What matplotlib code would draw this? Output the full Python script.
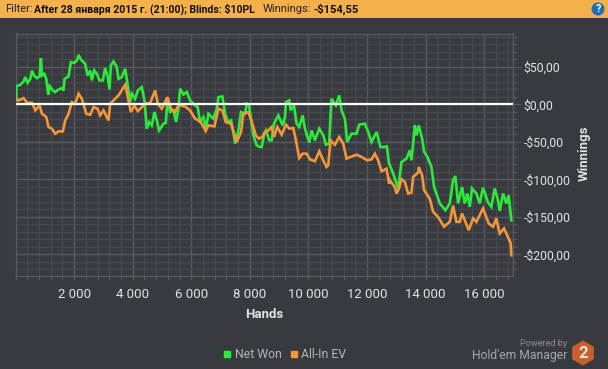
import matplotlib
matplotlib.use("Agg")
import matplotlib.pyplot as plt
from matplotlib.lines import Line2D
from matplotlib.patches import Rectangle, Circle, RegularPolygon
from matplotlib.ticker import FixedLocator, MultipleLocator

plt.rcParams['font.family'] = ['Roboto', 'DejaVu Sans']

# net won
net_hands = [27, 27, 164, 277, 334, 414, 505, 562, 641, 732, 823, 868, 902, 982, 1050, 1118, 1164, 1278, 1357, 1471,
             1585, 1641, 1675, 1812, 1891, 2005, 2096, 2153, 2232, 2380, 2460, 2551, 2607, 2687, 2778, 2869, 2983,
             3062, 3142, 3210, 3256, 3347, 3460, 3517, 3631, 3745, 3824, 3915, 3972, 4086, 4176, 4313, 4404, 4483,
             4563, 4654, 4745, 4825, 4904, 5052, 5131, 5188, 5279, 5393, 5484, 5563, 5620, 5734, 5848, 5961, 6132,
             6222, 6302, 6416, 6507, 6586, 6757, 6871, 6928, 7064, 7155, 7269, 7360, 7440, 7497, 7610, 7701, 7838,
             7895, 7975, 8043, 8123, 8236, 8348, 8407, 8498, 8552, 8666, 8746, 8826, 8973, 9121, 9201, 9235, 9348,
             9394, 9507, 9598, 9689, 9803, 9883, 10031, 10110, 10224, 10372, 10508, 10598, 10712, 10758, 10792,
             10940, 11053, 11133, 11247, 11326, 11474, 11645, 11736, 11929, 12043, 12157, 12327, 12463, 12577, 12680,
             12750, 12894, 13065, 13179, 13350, 13464, 13520, 13577, 13634, 13691, 13770, 13884, 13952, 14065, 14202,
             14293, 14486, 14679, 14827, 14941, 15020, 15111, 15248, 15339, 15430, 15510, 15589, 15737, 15851, 15964,
             16135, 16249, 16362, 16476, 16533, 16647, 16760, 16840, 16931]
net_won = [5.3, 24.4, 26, 30.6, 36.4, 28.8, 34, 45, 37.7, 35, 37.7, 61.6, 38.6, 40.8, 34, 12.9, 24.4, 18.6, 16.4, 20,
           21.7, 18.6, 34, 37.3, 56.3, 55.4, 58.5, 66, 59.8, 54, 38.6, 45.2, 32, 45.2, 40.8, 32, 32,
           48.3, 38.6, 20, 51.9, 57.2, 49.6, 34, 36.4, 47.5, 27.5, 3, 14.2, 7.6, 18.6, 23, 5.3, -32.3,
           -23.5, -27.9, -10.2, -21.3, -34.6, -25.7, -24.8, 5.3, -10.2, -8, -23.5, -5.8, 20.8, 13.3, 16.4, 5.3, -1.3,
           -3.5, -23.5, -16.8, -32.3, -12.4, -19, -5.8, 9.7, 10.6, -12.4, -23.5, -21.3, -36.8, -52.3, -34.6, -10.2, -12.4,
           0.9, -1.3, -19, -41.2, -54.5, -56.8, -56.7, -38.2, -34.6, -47.9, -47.9, -25.7, -14.6, -27.9, -16.8, 3.1, 5.3,
           -8, -1.3, -25.7, -30.1, -14.6, -32.3, -51, -34.6, -47.9, -32.3, -41.2, -53.6, -52.3, -14.6, 7.6,
           -1.3, 12, -8, -19, -50.1, -39, -39, -27, -25.7, -36.8, -50.1, -36.8, -56.8, -56.8, -56,
           -78, -92, -112, -76.7, -72.3, -61.2, -74.5, -52.3, -28, -41.2, -28, -45.6, -63.4, -70, -83.4,
           -110, -132, -141, -132, -101, -95.4, -132, -110, -132, -118.7, -136.6, -112, -118.7, -132, -111,
           -130.8, -136.6, -112, -127.7, -142, -118.7, -132, -121, -154.55]

# all-in ev
ev_hands = [27, 107, 277, 391, 562, 675, 823, 902, 1050, 1130, 1243, 1357, 1471, 1618, 1698, 1812, 1925, 2039, 2153,
            2267, 2414, 2551, 2664, 2801, 2892, 3006, 3176, 3233, 3403, 3517, 3745, 3824, 3938, 4052, 4176, 4427,
            4597, 4768, 4859, 4995, 5188, 5313, 5450, 5563, 5790, 5961, 6132, 6245, 6359, 6495, 6586, 6791, 6928,
            7064, 7178, 7360, 7497, 7554, 7701, 7781, 7951, 8088, 8202, 8316, 8429, 8518, 8632, 8746, 8826, 8939,
            9087, 9235, 9348, 9485, 9575, 9689, 9803, 9939, 10053, 10224, 10372, 10508, 10621, 10678, 10758, 10906,
            11053, 11190, 11304, 11440, 11645, 11815, 12009, 12157, 12270, 12384, 12498, 12668, 12759, 12781, 12951,
            13008, 13088, 13179, 13293, 13407, 13520, 13577, 13748, 13770, 13884, 13952, 14145, 14259, 14429, 14634,
            14827, 14941, 15055, 15168, 15248, 15475, 15623, 15737, 15964, 16158, 16305, 16419, 16533, 16681, 16760,
            16908, 16931]
ev_won = [7.5, 5.3, 8.4, 2.2, 2.2, -8, -1.3, -12.4, -16.8, -30.1, -32.3, -39, -35.9, -35.9, -21.3, -12.4, 3.1, 0.9, 14.2,
          7.5, -12.4, -13.8, -3.5, -5.8, -14.6, -8, -21.3, 0.9, 7.5, 12, 26, 12, -10.2, -1.3, -8.9, 0.9,
          1.8, 18.6, 0.9, -5.8, 9.7, -5.8, -10.2, -1.3, -2.7, -8, -19, -21.3, -25.7, -35.5, -27.9, -29.3, -5.8,
          -8, -23.5, -25.7, -43.4, -50.1, -36.8, -12.4, -10.2, -25.7, -41.2, -45.6, -43.4, -36.8, -34.6, -30.1, -43.4, -30.1,
          -40.3, -27, -32.3, -31.5, -47.9, -71.4, -65.6, -65.6, -73.2, -75.8, -62.5, -74.5, -83.4, -81.1, -47.9, -53.6,
          -43.4, -52.3, -72.2, -70, -67, -70, -74.5, -73.2, -65.6, -74.5, -89, -85.6, -105.5, -101, -110,
          -118.7, -113, -99.8, -103, -118.7, -117.5, -96.6, -90.9, -83.4, -94.4, -114.4, -125.5, -143, -150, -163,
          -156.5, -135, -156.5, -156.5, -145.4, -167.6, -152, -156.5, -138.7, -158.7, -163, -152, -172, -165.3, -172,
          -185, -201]

x_ticks = [2000, 4000, 6000, 8000, 10000, 12000, 14000, 16000]
x_labels = ['2 000', '4 000', '6 000', '8 000', '10 000', '12 000', '14 000', '16 000']
y_ticks = [50, 0, -50, -100, -150, -200]
y_labels = ['$50,00', '$0,00', '-$50,00', '-$100,00', '-$150,00', '-$200,00']

W, H = 608, 369
BG = '#373A3E'
GREEN = '#2BEA3C'
ORANGE = '#F6963A'
MAJOR = '#585B5E'
MINOR = '#47494D'
TEXT = '#E2E2E2'


def fx(px):
    return px / W


def fy(py):
    return 1 - py / H


fig = plt.figure(figsize=(W / 100, H / 100), dpi=100, facecolor=BG)
ax = fig.add_axes([fx(15.5), fy(275.5), fx(497), (275.5 - 33.5) / H], facecolor=BG)

ax.plot(net_hands, net_won, color=GREEN, lw=1.9, solid_joinstyle='miter', zorder=3)
ax.plot(ev_hands, ev_won, color=ORANGE, lw=1.9, solid_joinstyle='miter', zorder=3)
ax.axhline(0, color='white', lw=1.6, zorder=4)

ax.set_xlim(0, 16970)
ax.set_ylim(-228, 94.5)

# grid and ticks
ax.xaxis.set_major_locator(FixedLocator(x_ticks))
ax.set_xticklabels(x_labels)
ax.xaxis.set_minor_locator(MultipleLocator(400))
ax.yaxis.set_major_locator(FixedLocator(y_ticks))
ax.yaxis.tick_right()
ax.set_yticklabels(y_labels)
ax.yaxis.set_minor_locator(MultipleLocator(10))
ax.grid(which='major', color=MAJOR, lw=1)
ax.grid(which='minor', color=MINOR, lw=1)
ax.set_axisbelow(True)
ax.tick_params(axis='x', which='both', length=3, width=0.8, color=MAJOR, labelcolor=TEXT, labelsize=9.5, pad=6)
ax.tick_params(axis='y', which='major', length=5.4, width=0.8, color=MAJOR, labelcolor=TEXT, labelsize=8.8, pad=2.5)
ax.tick_params(axis='y', which='minor', length=3, width=0.8, color=MAJOR)
for s in ax.spines.values():
    s.set_color(MAJOR)
    s.set_linewidth(1)

fig.text(fx(264), fy(314), 'Hands', color=TEXT, fontsize=9.5, fontweight='bold', ha='center', va='center')
fig.text(fx(584), fy(153), 'Winnings', color=TEXT, fontsize=9.5, fontweight='bold', rotation=90,
         ha='center', va='center')

# header bar
fig.add_artist(Rectangle((0, fy(18)), 1, 18 / H, transform=fig.transFigure, color='#F4B04A', lw=0))
fig.text(fx(5), fy(9), 'Filter:', color='#222222', fontsize=8, va='center')
fig.text(fx(34), fy(9), 'After 28 января 2015 г. (21:00); Blinds: $10PL', color='#111111', fontsize=7.6,
         fontweight='bold', va='center')
fig.text(fx(263), fy(9), 'Winnings:', color='#222222', fontsize=8, va='center')
fig.text(fx(313), fy(9), '-$154,55', color='#111111', fontsize=8, fontweight='bold', va='center')

# help icon, using pixel coordinates of the figure
fig.add_artist(Circle((598, H - 9), 6.5, transform=None, color='#1C6FB5', lw=0))
fig.text(fx(598), fy(9), '?', color='white', fontsize=8, fontweight='bold', ha='center', va='center')

# legend
handles = [Line2D([], [], ls='none', marker='s', ms=4.5, color=GREEN),
           Line2D([], [], ls='none', marker='s', ms=4.5, color=ORANGE)]
fig.legend(handles, ['Net Won', 'All-In EV'], loc='center', bbox_to_anchor=(fx(283), fy(355)), ncol=2, frameon=False,
           fontsize=8.8, labelcolor='#B5B5B5', handletextpad=0.0, columnspacing=0.4, handlelength=1.2)

# powered by logo
fig.text(fx(567), fy(344), 'Powered by', color='#8C8E90', fontsize=6.6, ha='right', va='center')
fig.text(fx(567), fy(356), "Hold'em Manager", color='#A5A7A9', fontsize=8.7, ha='right', va='center')
fig.add_artist(RegularPolygon((583, H - 353), 6, radius=12.5, transform=None, color='#C8602A', lw=0))
fig.text(fx(583), fy(353), '2', color='#E8E2DC', fontsize=12, fontweight='bold', ha='center', va='center')

plt.savefig('out.png', dpi=100, facecolor=BG)
